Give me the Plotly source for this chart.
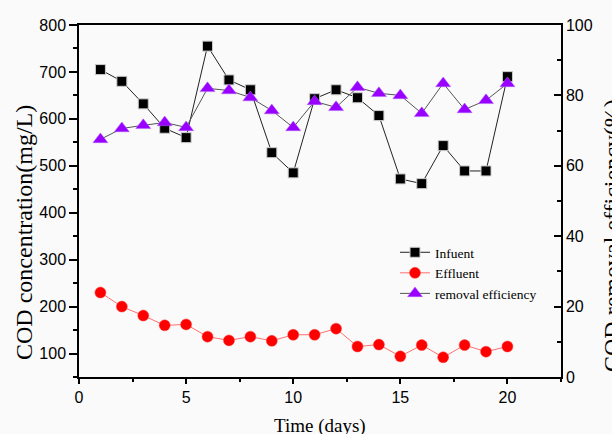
import plotly.graph_objects as go

days = list(range(1, 21))
influent = [705, 680, 632, 580, 560, 755, 683, 662, 528, 485,
            643, 662, 645, 607, 472, 462, 543, 489, 489, 690]
effluent = [230, 200, 181, 160, 162, 136, 128, 136, 127, 140,
            140, 153, 115, 119, 94, 118, 92, 118, 104, 115]
removal = [67.5, 70.6, 71.5, 72.3, 70.9, 82.0, 81.4, 79.4, 75.7, 70.9,
           78.3, 76.6, 82.3, 80.6, 80.0, 74.9, 83.4, 76.0, 78.6, 83.4]

L, R, T, B = 79, 51, 25, 57
W, H = 612, 434
pw, ph = W - L - R, H - T - B

def px(x):
    return (x - L) / pw

def py(y):
    return (H - B - y) / ph

serif = "Liberation Serif, Times New Roman, serif"
sans = "Liberation Sans, Arial, sans-serif"

fig = go.Figure()
fig.add_trace(go.Scatter(
    x=days, y=influent, name="Infuent", mode="lines+markers",
    line=dict(color="#222222", width=1),
    marker=dict(symbol="square", size=10, color="black",
                line=dict(color="#cccccc", width=1)),
))
fig.add_trace(go.Scatter(
    x=days, y=effluent, name="Effluent", mode="lines+markers",
    line=dict(color="#ff6f6f", width=1),
    marker=dict(symbol="circle", size=11, color="#ff0000",
                line=dict(color="#ff4040", width=0.5)),
))
fig.add_trace(go.Scatter(
    x=days, y=removal, name="removal efficiency", mode="lines+markers",
    yaxis="y2",
    line=dict(color="#555555", width=1),
    marker=dict(symbol="triangle-up", size=13, color="#9900ff",
                line=dict(color="#b060ff", width=0.5)),
))

axis_common = dict(showline=True, linecolor="black", linewidth=1.5,
                   showgrid=False, zeroline=False,
                   tickcolor="black", tickwidth=1.5,
                   tickfont=dict(family=sans, size=16, color="black"))

fig.update_layout(
    width=W, height=H,
    margin=dict(l=L, r=R, t=T, b=B, autoexpand=False),
    paper_bgcolor="#fafafa", plot_bgcolor="#fafafa",
    showlegend=True,
    legend=dict(x=px(395), y=py(237), xanchor="left", yanchor="top",
                bgcolor="rgba(0,0,0,0)",
                font=dict(family=serif, size=13.5, color="black"),
                tracegroupgap=0, itemwidth=30),
    xaxis=dict(range=[0, 22.5], tick0=0, dtick=5, ticks="outside", ticklen=5,
               mirror=True,
               minor=dict(dtick=2.5, ticks="outside", ticklen=3,
                          tickcolor="black", tickwidth=1.5),
               **axis_common),
    yaxis=dict(range=[50, 800], tick0=0, dtick=100, ticks="outside", ticklen=8,
               minor=dict(dtick=50, ticks="outside", ticklen=4,
                          tickcolor="black", tickwidth=1.5),
               **axis_common),
    yaxis2=dict(range=[0, 100], tick0=0, dtick=20, ticks="inside", ticklen=7,
                overlaying="y", side="right",
                minor=dict(dtick=10, ticks="inside", ticklen=4,
                           tickcolor="black", tickwidth=1.5),
                **axis_common),
    annotations=[
        dict(text="Time (days)", x=px(320), y=py(426), xref="paper", yref="paper",
             xanchor="center", yanchor="middle", showarrow=False,
             font=dict(family=serif, size=19, color="black")),
        dict(text="COD concentration(mg/L)", x=px(24), y=py(233),
             xref="paper", yref="paper", textangle=-90,
             xanchor="center", yanchor="middle", showarrow=False,
             font=dict(family=serif, size=24, color="black")),
        dict(text="COD removal efficiency(%)", x=px(612), y=py(236),
             xref="paper", yref="paper", textangle=-90,
             xanchor="center", yanchor="middle", showarrow=False,
             font=dict(family=serif, size=24, color="black")),
    ],
)

fig.write_html("out.html",
               config={"displayModeBar": False},
               post_script="document.body.style.margin='0';"
                           "document.body.style.background='#fafafa';")
